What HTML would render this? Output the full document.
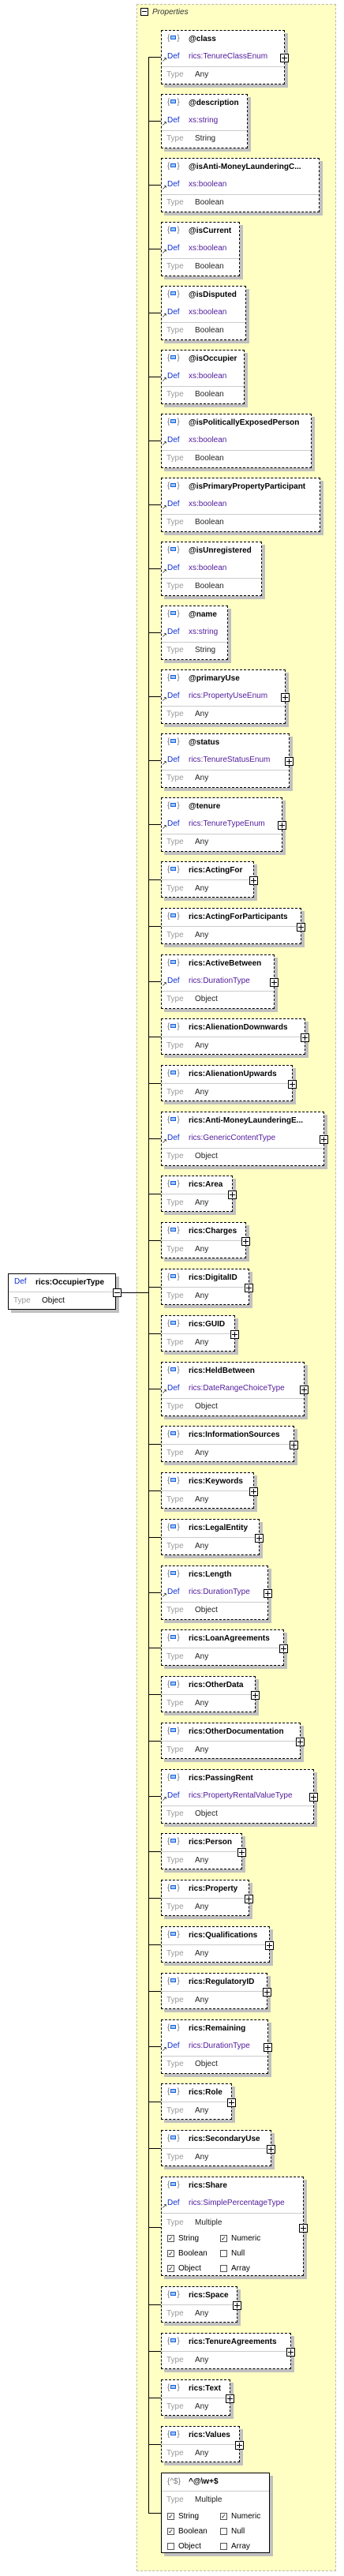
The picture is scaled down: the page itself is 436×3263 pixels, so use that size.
<!DOCTYPE html>
<html><head><meta charset="utf-8"><style>
*{box-sizing:border-box;margin:0;padding:0}
body{width:436px;height:3263px;background:#fff;position:relative;overflow:hidden;font:10px "Liberation Sans",sans-serif;color:#000}
.c{position:absolute;left:173px;top:5px;width:253px;height:3252px;background:#ffffc4;border:1px dashed #bbb}
.hm{position:absolute;left:178px;top:10px;width:10px;height:10px;border:1px solid #000;background:#fff}
.hm:after{content:"";position:absolute;left:1px;top:3px;width:6px;height:1px;background:#000}
.ht{position:absolute;left:193px;top:10px;font-style:italic;color:#333;font-size:10px}
.vl{position:absolute;left:188px;top:72px;width:1px;height:3111px;background:#000}
.hl{position:absolute;left:188px;width:16px;height:1px;background:#000}
.b{position:absolute;left:204px;height:69px;background:#fff;border:1px dashed #000;box-shadow:4px 4px 0 #c0c0c0}
.b.s{height:46px}
.b>span{position:absolute;white-space:nowrap;line-height:12px}
.ic{left:7px;top:4px;color:#777}
.ic i{display:inline-block;width:7px;height:5px;border:1px solid #1a5fd6;background:#9cc4ff;margin:0 1px;vertical-align:1px}
.n{left:34px;top:5px;font-weight:bold}
.d{left:7px;top:27px;color:#1030d0}
.ar{left:0px;top:31px;font-size:8px}
.t{left:34px;top:27px;color:#50189a}
.sp{position:absolute;left:0;right:0;top:45px;height:1px;background:#ccc}
.ty{left:6px;top:50px;color:#999}
.v{left:42px;top:50px;color:#222}
.s .sp{top:22px}.s .ty,.s .v{top:28px}
.p{position:absolute;right:-6px;top:29px;width:11px;height:11px;border:1px solid #000;background:#fff}
.s .p{top:18px}
.p:before{content:"";position:absolute;left:1px;top:4px;width:7px;height:1px;background:#000}
.p:after{content:"";position:absolute;left:4px;top:1px;width:1px;height:7px;background:#000}
.cb{position:absolute;width:9px;height:9px;border:1px solid #555;background:#fff;font-size:8px;line-height:7px;text-align:center}
.root{position:absolute;left:10px;top:1613px;width:137px;height:46px;background:#fff;border:1px solid #000;box-shadow:4px 4px 0 #c0c0c0}
.root>span{position:absolute;white-space:nowrap;line-height:12px}
</style></head><body>
<div class="c"></div>
<div class="hm"></div><div class="ht">Properties</div>
<div class="vl"></div>
<div class="root"><span style="left:7px;top:4px;color:#1030d0">Def</span><span style="left:34px;top:5px;font-weight:bold">rics:OccupierType</span><div class="sp" style="position:absolute;left:0;right:0;top:22px;height:1px;background:#ccc"></div><span style="left:6px;top:28px;color:#999">Type</span><span style="left:42px;top:28px">Object</span></div>
<div style="position:absolute;left:143px;top:1632px;width:11px;height:11px;border:1px solid #000;background:#fff"><div style="position:absolute;left:1px;top:4px;width:7px;height:1px;background:#000"></div></div>
<div class="hl" style="left:154px;width:34px;top:1637px"></div>

<div class="hl" style="top:72px"></div><div class="b" style="top:38px;width:157px"><span class="ic">{<i></i>}</span><span class="n">@class</span><span class="ar">↗</span><span class="d">Def</span><span class="t">rics:TenureClassEnum</span><div class="sp"></div><span class="ty">Type</span><span class="v">Any</span><div class="p"></div></div>
<div class="hl" style="top:153px"></div><div class="b" style="top:119px;width:110px"><span class="ic">{<i></i>}</span><span class="n">@description</span><span class="ar">↗</span><span class="d">Def</span><span class="t">xs:string</span><div class="sp"></div><span class="ty">Type</span><span class="v">String</span></div>
<div class="hl" style="top:234px"></div><div class="b" style="top:200px;width:201px"><span class="ic">{<i></i>}</span><span class="n">@isAnti-MoneyLaunderingC...</span><span class="ar">↗</span><span class="d">Def</span><span class="t">xs:boolean</span><div class="sp"></div><span class="ty">Type</span><span class="v">Boolean</span></div>
<div class="hl" style="top:315px"></div><div class="b" style="top:281px;width:100px"><span class="ic">{<i></i>}</span><span class="n">@isCurrent</span><span class="ar">↗</span><span class="d">Def</span><span class="t">xs:boolean</span><div class="sp"></div><span class="ty">Type</span><span class="v">Boolean</span></div>
<div class="hl" style="top:396px"></div><div class="b" style="top:362px;width:108px"><span class="ic">{<i></i>}</span><span class="n">@isDisputed</span><span class="ar">↗</span><span class="d">Def</span><span class="t">xs:boolean</span><div class="sp"></div><span class="ty">Type</span><span class="v">Boolean</span></div>
<div class="hl" style="top:477px"></div><div class="b" style="top:443px;width:106px"><span class="ic">{<i></i>}</span><span class="n">@isOccupier</span><span class="ar">↗</span><span class="d">Def</span><span class="t">xs:boolean</span><div class="sp"></div><span class="ty">Type</span><span class="v">Boolean</span></div>
<div class="hl" style="top:558px"></div><div class="b" style="top:524px;width:191px"><span class="ic">{<i></i>}</span><span class="n">@isPoliticallyExposedPerson</span><span class="ar">↗</span><span class="d">Def</span><span class="t">xs:boolean</span><div class="sp"></div><span class="ty">Type</span><span class="v">Boolean</span></div>
<div class="hl" style="top:639px"></div><div class="b" style="top:605px;width:202px"><span class="ic">{<i></i>}</span><span class="n">@isPrimaryPropertyParticipant</span><span class="ar">↗</span><span class="d">Def</span><span class="t">xs:boolean</span><div class="sp"></div><span class="ty">Type</span><span class="v">Boolean</span></div>
<div class="hl" style="top:720px"></div><div class="b" style="top:686px;width:128px"><span class="ic">{<i></i>}</span><span class="n">@isUnregistered</span><span class="ar">↗</span><span class="d">Def</span><span class="t">xs:boolean</span><div class="sp"></div><span class="ty">Type</span><span class="v">Boolean</span></div>
<div class="hl" style="top:801px"></div><div class="b" style="top:767px;width:85px"><span class="ic">{<i></i>}</span><span class="n">@name</span><span class="ar">↗</span><span class="d">Def</span><span class="t">xs:string</span><div class="sp"></div><span class="ty">Type</span><span class="v">String</span></div>
<div class="hl" style="top:882px"></div><div class="b" style="top:848px;width:158px"><span class="ic">{<i></i>}</span><span class="n">@primaryUse</span><span class="ar">↗</span><span class="d">Def</span><span class="t">rics:PropertyUseEnum</span><div class="sp"></div><span class="ty">Type</span><span class="v">Any</span><div class="p"></div></div>
<div class="hl" style="top:963px"></div><div class="b" style="top:929px;width:163px"><span class="ic">{<i></i>}</span><span class="n">@status</span><span class="ar">↗</span><span class="d">Def</span><span class="t">rics:TenureStatusEnum</span><div class="sp"></div><span class="ty">Type</span><span class="v">Any</span><div class="p"></div></div>
<div class="hl" style="top:1044px"></div><div class="b" style="top:1010px;width:154px"><span class="ic">{<i></i>}</span><span class="n">@tenure</span><span class="ar">↗</span><span class="d">Def</span><span class="t">rics:TenureTypeEnum</span><div class="sp"></div><span class="ty">Type</span><span class="v">Any</span><div class="p"></div></div>

<div class="hl" style="top:1114px"></div><div class="b s" style="top:1091px;width:118px"><span class="ic">{<i></i>}</span><span class="n">rics:ActingFor</span><div class="sp"></div><span class="ty">Type</span><span class="v">Any</span><div class="p"></div></div>
<div class="hl" style="top:1173px"></div><div class="b s" style="top:1150px;width:178px"><span class="ic">{<i></i>}</span><span class="n">rics:ActingForParticipants</span><div class="sp"></div><span class="ty">Type</span><span class="v">Any</span><div class="p"></div></div>
<div class="hl" style="top:1243px"></div><div class="b" style="top:1209px;width:144px"><span class="ic">{<i></i>}</span><span class="n">rics:ActiveBetween</span><span class="ar">↗</span><span class="d">Def</span><span class="t">rics:DurationType</span><div class="sp"></div><span class="ty">Type</span><span class="v">Object</span><div class="p"></div></div>
<div class="hl" style="top:1313px"></div><div class="b s" style="top:1290px;width:183px"><span class="ic">{<i></i>}</span><span class="n">rics:AlienationDownwards</span><div class="sp"></div><span class="ty">Type</span><span class="v">Any</span><div class="p"></div></div>
<div class="hl" style="top:1372px"></div><div class="b s" style="top:1349px;width:167px"><span class="ic">{<i></i>}</span><span class="n">rics:AlienationUpwards</span><div class="sp"></div><span class="ty">Type</span><span class="v">Any</span><div class="p"></div></div>
<div class="hl" style="top:1442px"></div><div class="b" style="top:1408px;width:207px"><span class="ic">{<i></i>}</span><span class="n">rics:Anti-MoneyLaunderingE...</span><span class="ar">↗</span><span class="d">Def</span><span class="t">rics:GenericContentType</span><div class="sp"></div><span class="ty">Type</span><span class="v">Object</span><div class="p"></div></div>
<div class="hl" style="top:1512px"></div><div class="b s" style="top:1489px;width:91px"><span class="ic">{<i></i>}</span><span class="n">rics:Area</span><div class="sp"></div><span class="ty">Type</span><span class="v">Any</span><div class="p"></div></div>
<div class="hl" style="top:1571px"></div><div class="b s" style="top:1548px;width:108px"><span class="ic">{<i></i>}</span><span class="n">rics:Charges</span><div class="sp"></div><span class="ty">Type</span><span class="v">Any</span><div class="p"></div></div>
<div class="hl" style="top:1630px"></div><div class="b s" style="top:1607px;width:112px"><span class="ic">{<i></i>}</span><span class="n">rics:DigitalID</span><div class="sp"></div><span class="ty">Type</span><span class="v">Any</span><div class="p"></div></div>
<div class="hl" style="top:1689px"></div><div class="b s" style="top:1666px;width:94px"><span class="ic">{<i></i>}</span><span class="n">rics:GUID</span><div class="sp"></div><span class="ty">Type</span><span class="v">Any</span><div class="p"></div></div>
<div class="hl" style="top:1759px"></div><div class="b" style="top:1725px;width:182px"><span class="ic">{<i></i>}</span><span class="n">rics:HeldBetween</span><span class="ar">↗</span><span class="d">Def</span><span class="t">rics:DateRangeChoiceType</span><div class="sp"></div><span class="ty">Type</span><span class="v">Object</span><div class="p"></div></div>
<div class="hl" style="top:1829px"></div><div class="b s" style="top:1806px;width:169px"><span class="ic">{<i></i>}</span><span class="n">rics:InformationSources</span><div class="sp"></div><span class="ty">Type</span><span class="v">Any</span><div class="p"></div></div>
<div class="hl" style="top:1888px"></div><div class="b s" style="top:1865px;width:118px"><span class="ic">{<i></i>}</span><span class="n">rics:Keywords</span><div class="sp"></div><span class="ty">Type</span><span class="v">Any</span><div class="p"></div></div>
<div class="hl" style="top:1947px"></div><div class="b s" style="top:1924px;width:125px"><span class="ic">{<i></i>}</span><span class="n">rics:LegalEntity</span><div class="sp"></div><span class="ty">Type</span><span class="v">Any</span><div class="p"></div></div>
<div class="hl" style="top:2017px"></div><div class="b" style="top:1983px;width:136px"><span class="ic">{<i></i>}</span><span class="n">rics:Length</span><span class="ar">↗</span><span class="d">Def</span><span class="t">rics:DurationType</span><div class="sp"></div><span class="ty">Type</span><span class="v">Object</span><div class="p"></div></div>
<div class="hl" style="top:2087px"></div><div class="b s" style="top:2064px;width:156px"><span class="ic">{<i></i>}</span><span class="n">rics:LoanAgreements</span><div class="sp"></div><span class="ty">Type</span><span class="v">Any</span><div class="p"></div></div>
<div class="hl" style="top:2146px"></div><div class="b s" style="top:2123px;width:120px"><span class="ic">{<i></i>}</span><span class="n">rics:OtherData</span><div class="sp"></div><span class="ty">Type</span><span class="v">Any</span><div class="p"></div></div>
<div class="hl" style="top:2205px"></div><div class="b s" style="top:2182px;width:177px"><span class="ic">{<i></i>}</span><span class="n">rics:OtherDocumentation</span><div class="sp"></div><span class="ty">Type</span><span class="v">Any</span><div class="p"></div></div>
<div class="hl" style="top:2275px"></div><div class="b" style="top:2241px;width:194px"><span class="ic">{<i></i>}</span><span class="n">rics:PassingRent</span><span class="ar">↗</span><span class="d">Def</span><span class="t">rics:PropertyRentalValueType</span><div class="sp"></div><span class="ty">Type</span><span class="v">Object</span><div class="p"></div></div>
<div class="hl" style="top:2345px"></div><div class="b s" style="top:2322px;width:103px"><span class="ic">{<i></i>}</span><span class="n">rics:Person</span><div class="sp"></div><span class="ty">Type</span><span class="v">Any</span><div class="p"></div></div>
<div class="hl" style="top:2404px"></div><div class="b s" style="top:2381px;width:112px"><span class="ic">{<i></i>}</span><span class="n">rics:Property</span><div class="sp"></div><span class="ty">Type</span><span class="v">Any</span><div class="p"></div></div>
<div class="hl" style="top:2463px"></div><div class="b s" style="top:2440px;width:138px"><span class="ic">{<i></i>}</span><span class="n">rics:Qualifications</span><div class="sp"></div><span class="ty">Type</span><span class="v">Any</span><div class="p"></div></div>
<div class="hl" style="top:2522px"></div><div class="b s" style="top:2499px;width:135px"><span class="ic">{<i></i>}</span><span class="n">rics:RegulatoryID</span><div class="sp"></div><span class="ty">Type</span><span class="v">Any</span><div class="p"></div></div>
<div class="hl" style="top:2592px"></div><div class="b" style="top:2558px;width:136px"><span class="ic">{<i></i>}</span><span class="n">rics:Remaining</span><span class="ar">↗</span><span class="d">Def</span><span class="t">rics:DurationType</span><div class="sp"></div><span class="ty">Type</span><span class="v">Object</span><div class="p"></div></div>
<div class="hl" style="top:2662px"></div><div class="b s" style="top:2639px;width:90px"><span class="ic">{<i></i>}</span><span class="n">rics:Role</span><div class="sp"></div><span class="ty">Type</span><span class="v">Any</span><div class="p"></div></div>
<div class="hl" style="top:2721px"></div><div class="b s" style="top:2698px;width:140px"><span class="ic">{<i></i>}</span><span class="n">rics:SecondaryUse</span><div class="sp"></div><span class="ty">Type</span><span class="v">Any</span><div class="p"></div></div>

<div class="hl" style="top:2821px"></div><div class="b" style="top:2757px;width:181px;height:126px"><span class="ic">{<i></i>}</span><span class="n">rics:Share</span><span class="ar">↗</span><span class="d">Def</span><span class="t">rics:SimplePercentageType</span><div class="sp"></div><span class="ty" style="top:52px">Type</span><span class="v" style="top:52px">Multiple</span><div class="p" style="top:59px"></div>
<div class="cb" style="left:7px;top:73px">✓</div><span style="left:21px;top:72px">String</span><div class="cb" style="left:74px;top:73px">✓</div><span style="left:88px;top:72px">Numeric</span>
<div class="cb" style="left:7px;top:92px">✓</div><span style="left:21px;top:91px">Boolean</span><div class="cb" style="left:74px;top:92px"></div><span style="left:88px;top:91px">Null</span>
<div class="cb" style="left:7px;top:111px">✓</div><span style="left:21px;top:110px">Object</span><div class="cb" style="left:74px;top:111px"></div><span style="left:88px;top:110px">Array</span></div>

<div class="hl" style="top:2919px"></div><div class="b s" style="top:2896px;width:97px"><span class="ic">{<i></i>}</span><span class="n">rics:Space</span><div class="sp"></div><span class="ty">Type</span><span class="v">Any</span><div class="p"></div></div>
<div class="hl" style="top:2978px"></div><div class="b s" style="top:2955px;width:165px"><span class="ic">{<i></i>}</span><span class="n">rics:TenureAgreements</span><div class="sp"></div><span class="ty">Type</span><span class="v">Any</span><div class="p"></div></div>
<div class="hl" style="top:3037px"></div><div class="b s" style="top:3014px;width:88px"><span class="ic">{<i></i>}</span><span class="n">rics:Text</span><div class="sp"></div><span class="ty">Type</span><span class="v">Any</span><div class="p"></div></div>
<div class="hl" style="top:3096px"></div><div class="b s" style="top:3073px;width:100px"><span class="ic">{<i></i>}</span><span class="n">rics:Values</span><div class="sp"></div><span class="ty">Type</span><span class="v">Any</span><div class="p"></div></div>

<div class="hl" style="top:3183px"></div><div class="b" style="top:3132px;width:138px;height:102px;border-style:solid"><span class="ic" style="top:5px">{^$}</span><span class="n">^@\w+$</span><div class="sp" style="top:22px"></div><span class="ty" style="top:28px">Type</span><span class="v" style="top:28px">Multiple</span>
<div class="cb" style="left:7px;top:50px">✓</div><span style="left:21px;top:49px">String</span><div class="cb" style="left:74px;top:50px">✓</div><span style="left:88px;top:49px">Numeric</span>
<div class="cb" style="left:7px;top:69px">✓</div><span style="left:21px;top:68px">Boolean</span><div class="cb" style="left:74px;top:69px"></div><span style="left:88px;top:68px">Null</span>
<div class="cb" style="left:7px;top:88px"></div><span style="left:21px;top:87px">Object</span><div class="cb" style="left:74px;top:88px"></div><span style="left:88px;top:87px">Array</span></div>
</body></html>
